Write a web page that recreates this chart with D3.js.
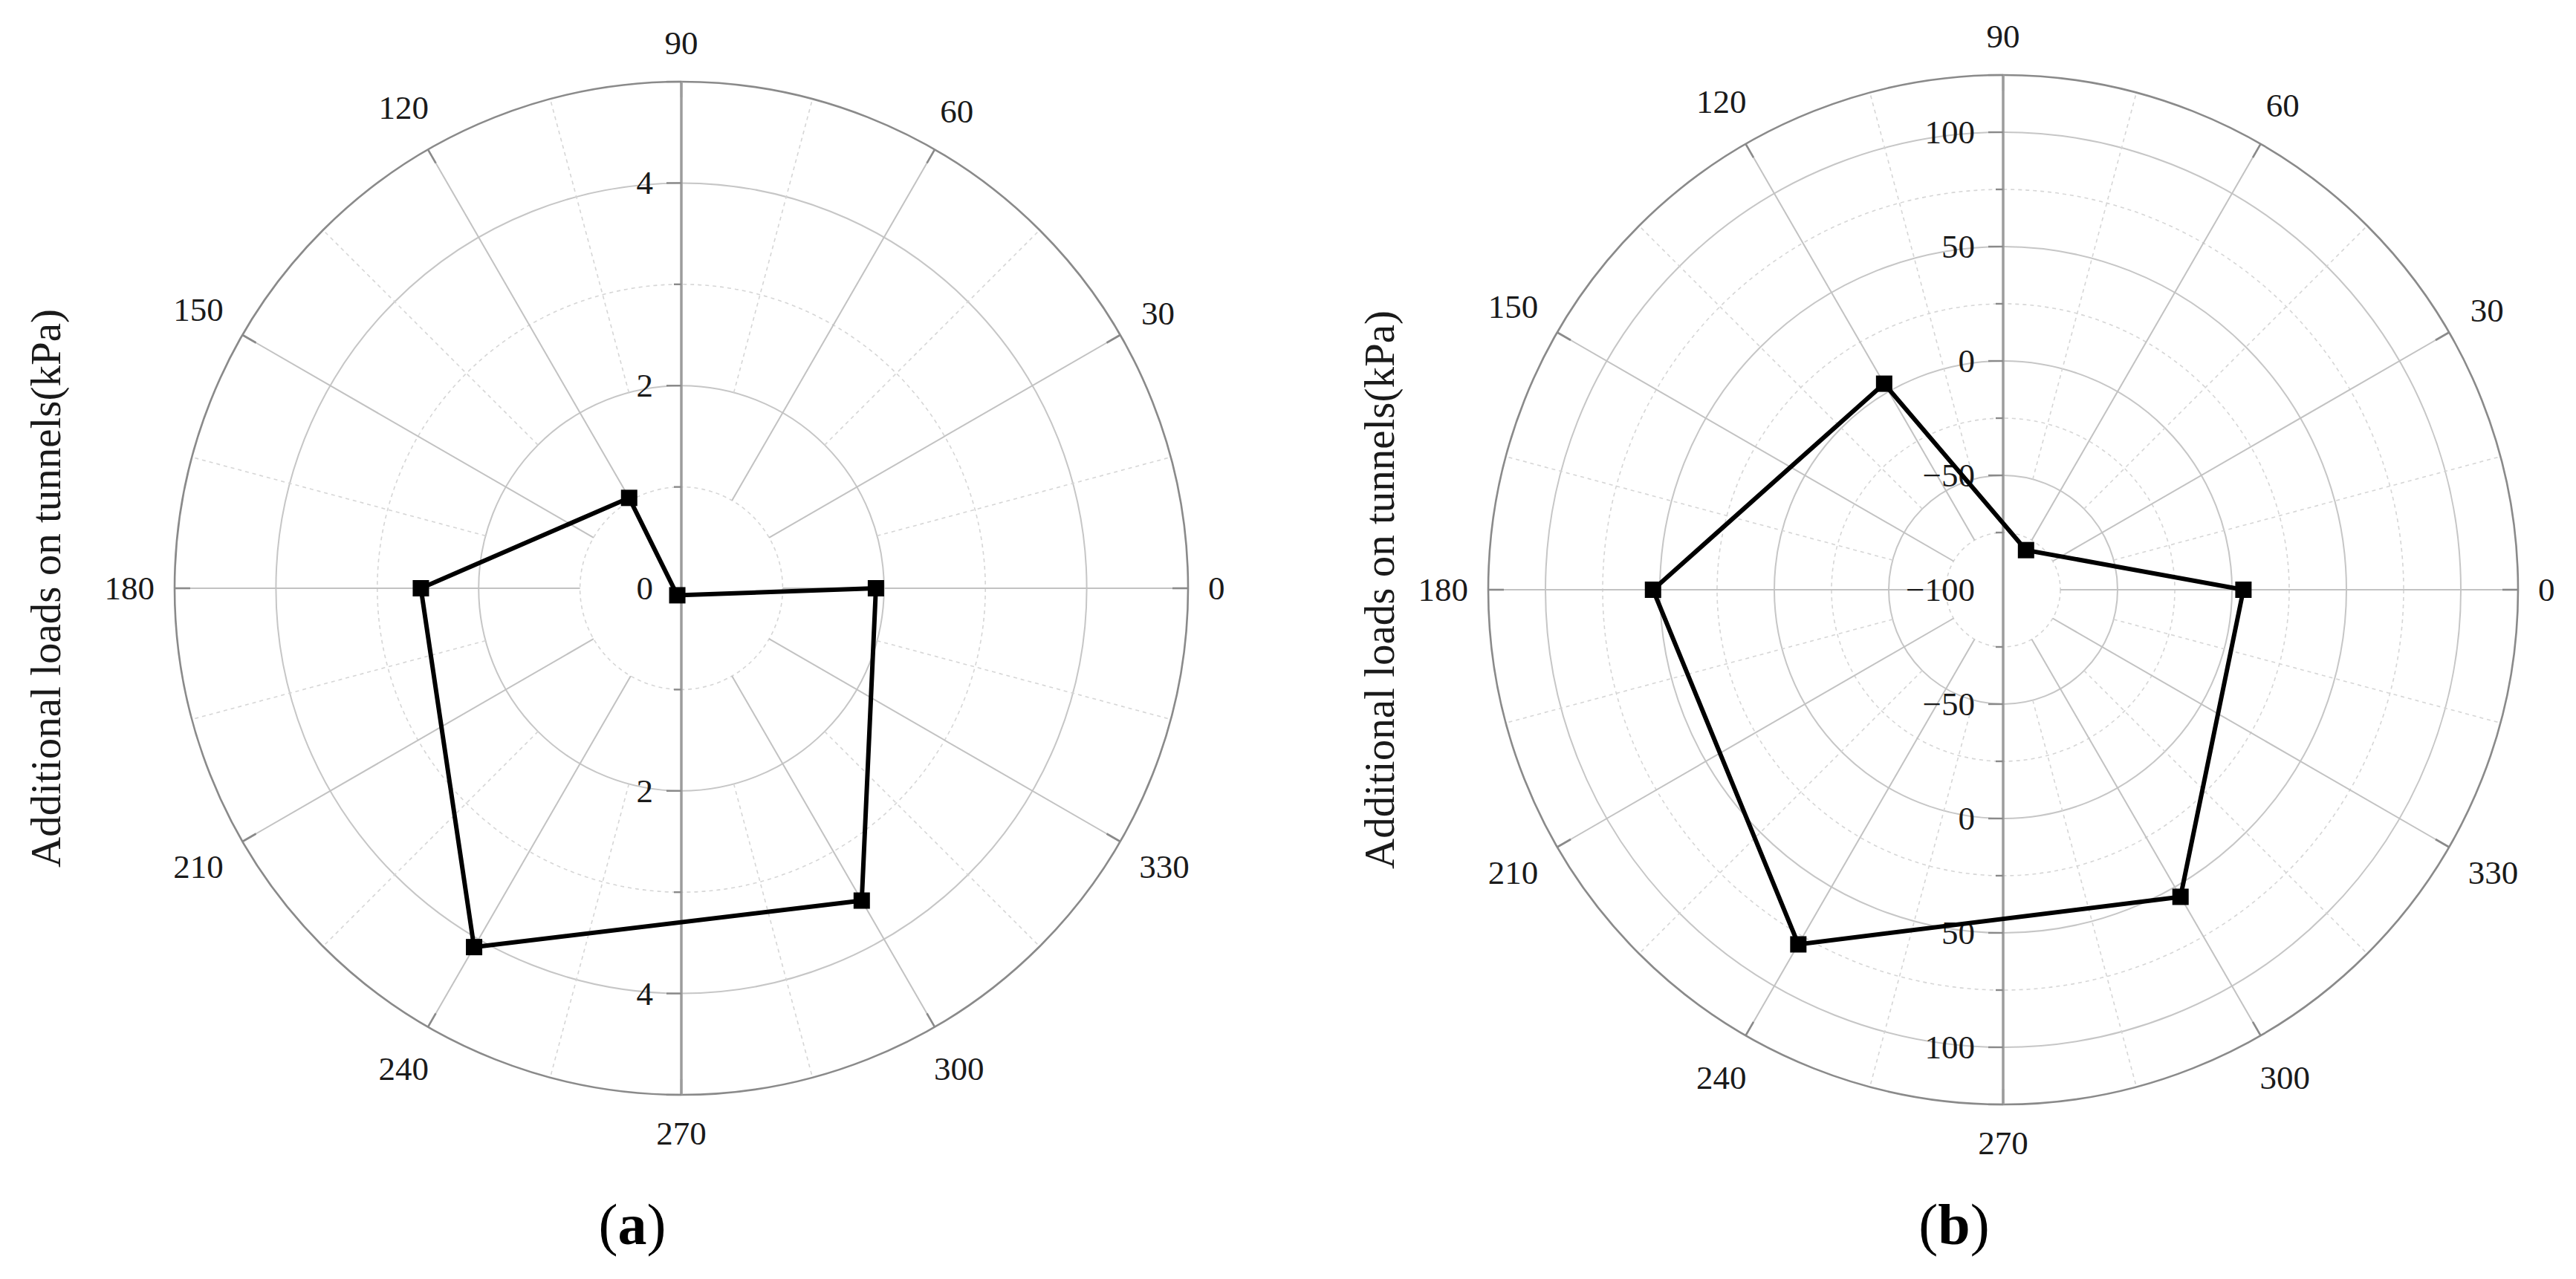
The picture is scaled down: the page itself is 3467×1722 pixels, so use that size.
<!DOCTYPE html>
<html><head><meta charset="utf-8">
<script src="https://cdn.jsdelivr.net/npm/d3@7"></script>
<style>
body{margin:0;background:#fff}
svg{display:block}
text{font-family:"Liberation Serif","Times New Roman",serif;}
</style>
</head><body>
<svg id="chart" width="3467" height="1722"></svg>
<script>
// ---- data ----
const angles = [0, 60, 120, 180, 240, 300];
const loadsA = [1.92, -0.08, 1.03, 2.57, 4.09, 3.56];
const loadsB = [5, -80, 4, 53, 79, 55];

const angleTickLabels = [0, 30, 60, 90, 120, 150, 180, 210, 240, 270, 300, 330];
const angleMinorTicks = [15, 45, 75, 105, 135, 165, 195, 225, 255, 285, 315, 345];

const domainA = [0, 5];
const radialMajorA = [2, 4];
const radialMinorA = [1, 3];
const radialLabelsA = [0, 2, 4];

const domainB = [-100, 125];
const radialMajorB = [-50, 0, 50, 100];
const radialMinorB = [-75, -25, 25, 75];
const radialLabelsB = [-100, -50, 0, 50, 100];

const panelLetters = ["a", "b"];
const axisTitle = "Additional loads on tunnels(kPa)";

// ---- drawing ----
const svg = d3.select("#chart");
svg.append("rect").attr("width", 3467).attr("height", 1722).attr("fill", "#fff");

const panels = [
  {cx: 917, cy: 792, R: 682, domain: domainA, major: radialMajorA, minor: radialMinorA,
   labels: radialLabelsA, values: loadsA, letter: panelLetters[0], titleX: 61},
  {cx: 2696, cy: 794, R: 693, domain: domainB, major: radialMajorB, minor: radialMinorB,
   labels: radialLabelsB, values: loadsB, letter: panelLetters[1], titleX: 1856}
];

const fmt = v => (v < 0 ? "\u2212" + Math.abs(v) : String(v));

panels.forEach(p => {
  const g = svg.append("g").attr("transform", `translate(${p.cx},${p.cy})`);
  const r = d3.scaleLinear().domain(p.domain).range([0, p.R]);
  const ang = d3.scaleLinear().domain([0, 360]).range([Math.PI / 2, Math.PI / 2 - 2 * Math.PI]);
  const firstMinor = d3.min(p.minor);
  const firstMajor = d3.min(p.major);

  // minor dashed rings
  g.selectAll(".minring").data(p.minor).join("circle")
    .attr("r", d => r(d)).attr("fill", "none")
    .attr("stroke", "#d6d6d6").attr("stroke-width", 1.6).attr("stroke-dasharray", "5,5");
  // major rings
  g.selectAll(".majring").data(p.major).join("circle")
    .attr("r", d => r(d)).attr("fill", "none")
    .attr("stroke", "#c6c6c6").attr("stroke-width", 2);

  // minor spokes (dashed)
  g.selectAll(".minspoke").data(angleMinorTicks).join("line")
    .each(function(d) {
      const a = d3.pointRadial(ang(d), r(firstMajor));
      const b = d3.pointRadial(ang(d), p.R);
      d3.select(this).attr("x1", a[0]).attr("y1", a[1]).attr("x2", b[0]).attr("y2", b[1]);
    })
    .attr("stroke", "#d6d6d6").attr("stroke-width", 1.6).attr("stroke-dasharray", "5,5");

  // major spokes (solid)
  g.selectAll(".majspoke").data(angleTickLabels.filter(d => d !== 90 && d !== 270)).join("line")
    .each(function(d) {
      const a = d3.pointRadial(ang(d), r(firstMinor));
      const b = d3.pointRadial(ang(d), p.R);
      d3.select(this).attr("x1", a[0]).attr("y1", a[1]).attr("x2", b[0]).attr("y2", b[1]);
    })
    .attr("stroke", "#c2c2c2").attr("stroke-width", 2);

  // outer circle
  g.append("circle").attr("r", p.R).attr("fill", "none")
    .attr("stroke", "#8a8a8a").attr("stroke-width", 2.6);

  // angular ticks (inward)
  g.selectAll(".atick").data(angleTickLabels).join("line")
    .each(function(d) {
      const a = d3.pointRadial(ang(d), p.R - 21);
      const b = d3.pointRadial(ang(d), p.R);
      d3.select(this).attr("x1", a[0]).attr("y1", a[1]).attr("x2", b[0]).attr("y2", b[1]);
    })
    .attr("stroke", "#8a8a8a").attr("stroke-width", 2.6);

  // radial axis (vertical)
  g.append("line").attr("x1", 0).attr("x2", 0).attr("y1", -p.R).attr("y2", p.R)
    .attr("stroke", "#9c9c9c").attr("stroke-width", 3.5);

  // radial ticks both directions
  [-1, 1].forEach(s => {
    g.selectAll(null).data(p.major.concat([p.domain[1]])).join("line")
      .attr("x1", -20).attr("x2", 0).attr("y1", d => s * r(d)).attr("y2", d => s * r(d))
      .attr("stroke", "#8a8a8a").attr("stroke-width", 2.4);
    g.selectAll(null).data(p.minor).join("line")
      .attr("x1", -10).attr("x2", 0).attr("y1", d => s * r(d)).attr("y2", d => s * r(d))
      .attr("stroke", "#8a8a8a").attr("stroke-width", 2.4);
  });

  // radial labels
  const radLab = [];
  p.labels.forEach(v => {
    radLab.push({v, y: -r(v)});
    if (v !== p.domain[0]) radLab.push({v, y: r(v)});
  });
  g.selectAll(".rlab").data(radLab).join("text")
    .attr("x", -38).attr("y", d => d.y).attr("text-anchor", "end")
    .attr("dominant-baseline", "central").attr("font-size", 45).attr("fill", "#1a1a1a")
    .text(d => fmt(d.v));

  // angular labels
  const fs = 45, gap = 27;
  angleTickLabels.forEach(d => {
    const t = g.append("text").attr("font-size", fs).attr("fill", "#1a1a1a")
      .attr("text-anchor", "middle").attr("dominant-baseline", "central").text(d);
    const w = t.node().getComputedTextLength();
    const th = ang(d);
    const ext = Math.abs(Math.sin(th)) * w / 2 + Math.abs(Math.cos(th)) * fs * 0.55;
    const pt = d3.pointRadial(th, p.R + gap + ext);
    t.attr("x", pt[0]).attr("y", pt[1]);
  });

  // data line
  const line = d3.lineRadial()
    .angle((d, i) => ang(angles[i]))
    .radius(d => r(d))
    .curve(d3.curveLinearClosed);
  g.append("path").attr("d", line(p.values)).attr("fill", "none")
    .attr("stroke", "#000").attr("stroke-width", 6).attr("stroke-linejoin", "miter");

  // markers
  g.selectAll(".mk").data(p.values).join("rect")
    .each(function(d, i) {
      const pt = d3.pointRadial(ang(angles[i]), r(d));
      d3.select(this).attr("x", pt[0] - 11).attr("y", pt[1] - 11);
    })
    .attr("width", 22).attr("height", 22).attr("fill", "#000");

  // axis title
  svg.append("text")
    .attr("transform", `translate(${p.titleX},${p.cy}) rotate(-90)`)
    .attr("text-anchor", "middle").attr("dominant-baseline", "central")
    .attr("font-size", 57).attr("fill", "#1a1a1a").text(axisTitle);

  // panel label
  const pl = svg.append("text").attr("x", p.cx - 66).attr("y", 1648)
    .attr("text-anchor", "middle").attr("dominant-baseline", "central")
    .attr("font-size", 78).attr("fill", "#000");
  pl.append("tspan").text("(");
  pl.append("tspan").attr("font-weight", "bold").text(p.letter);
  pl.append("tspan").text(")");
});
</script>
</body></html>
